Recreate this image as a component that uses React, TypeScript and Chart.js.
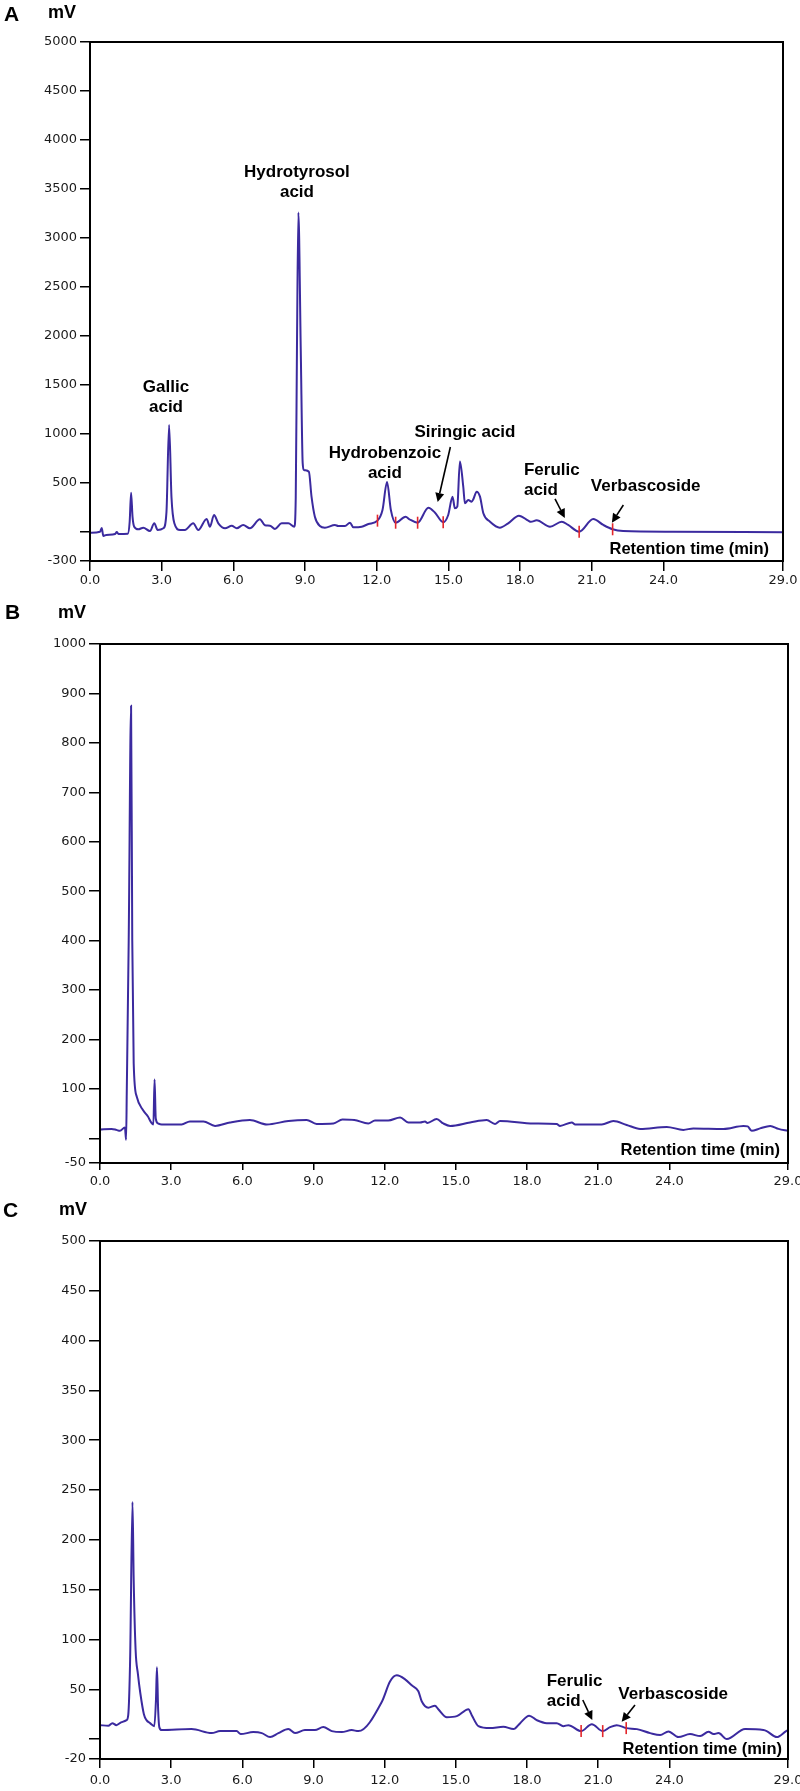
import React, { useEffect, useRef } from 'react';
import { Chart, registerables } from 'chart.js';

Chart.register(...registerables);

// ---------- shared ----------
const X_TICKS = [0, 3, 6, 9, 12, 15, 18, 21, 24, 29];

// ---------- Panel A ----------
const TIME_A = [0, 0.42, 0.49, 0.56, 0.68, 1.05, 1.12, 1.19, 1.58, 1.66, 1.72, 1.78, 1.85, 2.02, 2.23, 2.51, 2.69, 2.83, 3.07, 3.2, 3.31, 3.41, 3.53, 3.77, 3.97, 4.32, 4.53, 4.88, 5.02, 5.19, 5.37, 5.65, 5.93, 6.14, 6.41, 6.69, 7.11, 7.32, 7.53, 7.74, 8.02, 8.3, 8.55, 8.61, 8.66, 8.72, 8.82, 8.9, 8.95, 9.16, 9.27, 9.41, 9.62, 9.83, 10.25, 10.39, 10.67, 10.88, 11.02, 11.37, 11.65, 12.03, 12.24, 12.43, 12.59, 12.79, 13.21, 13.37, 13.71, 14.16, 14.44, 14.78, 14.99, 15.17, 15.27, 15.37, 15.48, 15.62, 15.69, 15.83, 15.97, 16.04, 16.18, 16.32, 16.46, 16.74, 17.15, 17.5, 17.95, 18.34, 18.45, 18.69, 19.25, 19.74, 20.01, 20.47, 21.06, 21.48, 21.87, 22.31, 24.4, 29.0];
const MV_A = [-11, -1, 37, -45, -34, -24, -4, -24, -21, 100, 397, 150, 50, 24, 40, 6, 85, 17, 34, 200, 1090, 350, 85, 17, 17, 85, 17, 129, 50, 170, 85, 34, 60, 34, 68, 34, 126, 65, 60, 27, 85, 85, 50, 350, 1850, 3260, 1850, 700, 630, 612, 357, 152, 57, 40, 68, 57, 57, 91, 44, 50, 78, 112, 221, 507, 221, 91, 152, 126, 91, 244, 193, 96, 170, 357, 238, 255, 717, 459, 289, 323, 306, 330, 408, 357, 187, 101, 40, 85, 163, 112, 100, 115, 50, 101, 68, -1, 129, 68, 24, 6, -1, -7];
const Y_TICKS_A = [-300, 0, 500, 1000, 1500, 2000, 2500, 3000, 3500, 4000, 4500, 5000];
const MARK_TIME_A = [12.03, 12.79, 13.71, 14.78, 20.47, 21.87];
const MARK_MV_A = [112, 91, 91, 96, -1, 24];
const LABEL_TEXT_A = [['Gallic', 'acid'], ['Hydrotyrosol', 'acid'], ['Hydrobenzoic', 'acid'], ['Siringic acid'], ['Ferulic', 'acid'], ['Verbascoside']];
const LABEL_TIME_A = [3.18, 8.66, 12.34, 15.69, 18.16, 20.96];
const LABEL_MV_A = [1477, 3672, 803, 1017, 622, 466];
const ARROW_FROM_TIME_A = [15.08, 19.46, 22.32];
const ARROW_FROM_MV_A = [864, 334, 272];
const ARROW_TO_TIME_A = [14.55, 19.87, 21.84];
const ARROW_TO_MV_A = [302, 139, 91];

// ---------- Panel B ----------
const TIME_B = [0, 0.49, 0.69, 0.84, 1.05, 1.1, 1.13, 1.21, 1.31, 1.36, 1.42, 1.55, 1.81, 2.02, 2.17, 2.25, 2.3, 2.35, 2.45, 2.6, 3.44, 3.79, 4.36, 4.85, 5.48, 6.32, 7.03, 7.94, 8.71, 9.13, 9.84, 10.22, 10.72, 11.31, 11.59, 12.15, 12.65, 13.0, 13.49, 13.7, 13.8, 14.19, 14.47, 14.76, 15.6, 16.3, 16.65, 16.86, 18.27, 19.25, 19.39, 19.89, 20.03, 21.15, 21.64, 22.2, 22.77, 23.89, 24.59, 25.01, 26.28, 27.12, 27.3, 27.47, 27.82, 28.25, 28.6, 29.0];
const MV_B = [18, 19, 17, 15, 22, -3, 100, 400, 875, 400, 152, 84, 57, 44, 31, 28, 119, 40, 30, 28, 28, 34, 34, 25, 32, 37, 28, 35, 37, 29, 30, 38, 37, 30, 36, 36, 42, 32, 32, 34, 31, 39, 30, 25, 32, 37, 29, 35, 30, 29, 25, 32, 28, 28, 35, 27, 19, 23, 17, 20, 19, 25, 24, 15, 20, 25, 19, 15];
const Y_TICKS_B = [-50, 0, 100, 200, 300, 400, 500, 600, 700, 800, 900, 1000];

// ---------- Panel C ----------
const TIME_C = [0, 0.35, 0.52, 0.69, 0.91, 1.12, 1.19, 1.27, 1.37, 1.42, 1.5, 1.6, 1.7, 1.85, 1.96, 2.11, 2.29, 2.36, 2.4, 2.45, 2.5, 2.6, 3.86, 4.71, 5.06, 5.76, 5.93, 6.46, 6.82, 7.17, 7.52, 7.94, 8.22, 8.64, 9.06, 9.41, 9.77, 10.19, 10.61, 10.89, 11.88, 12.23, 12.51, 12.86, 13.14, 13.42, 13.56, 13.84, 14.12, 14.26, 14.62, 15.04, 15.53, 15.67, 15.95, 16.44, 17.0, 17.43, 17.71, 18.09, 18.41, 18.83, 19.25, 19.53, 19.74, 20.28, 20.73, 21.19, 21.5, 21.78, 22.18, 22.63, 23.19, 23.61, 23.96, 24.38, 24.87, 25.3, 25.65, 25.86, 26.07, 26.42, 27.19, 27.96, 28.1, 28.53, 28.92, 29.0];
const MV_C = [14, 13.4, 16, 14, 17, 19, 24, 80, 238, 160, 90, 65, 46, 25, 19, 16, 13, 40, 72, 30, 12, 9, 10, 6, 8, 8, 5, 7, 6, 2, 6, 10, 6, 9, 9, 12, 8, 7, 9, 8, 37.5, 58, 64, 60, 54, 48, 38, 31.5, 33.5, 30, 22, 23, 30, 24, 13, 11, 12.4, 10, 16, 23.5, 19, 16, 16, 13, 14, 8, 15, 8, 12, 14, 11, 10, 6, 4, 7.7, 2, 5, 3, 7.4, 5, 6, 0, 10, 9, 8, 2, 8, 9];
const Y_TICKS_C = [-20, 0, 50, 100, 150, 200, 250, 300, 350, 400, 450, 500];
const MARK_TIME_C = [20.28, 21.19, 22.18];
const MARK_MV_C = [8, 8, 11];
const LABEL_TEXT_C = [['Ferulic', 'acid'], ['Verbascoside']];
const LABEL_TIME_C = [18.83, 21.85];
const LABEL_MV_C = [57.6, 45.3];
const ARROW_FROM_TIME_C = [20.35, 22.55];
const ARROW_FROM_MV_C = [39.2, 34.2];
const ARROW_TO_TIME_C = [20.75, 21.99];
const ARROW_TO_MV_C = [19.2, 17.4];

// ---------- styles ----------
const LINE_COLOR = '#3b2a9f';
const MARK_COLOR = '#e3262b';
const TICK_FONT = { family: '"DejaVu Sans", Verdana, sans-serif', size: 13 };
const BOLD = '"Liberation Sans", Arial, Helvetica, sans-serif';

type PanelSpec = {
  letter: string;
  top: number;
  height: number;
  plot: { left: number; right: number; top: number; bottom: number };
  yMin: number;
  yMax: number;
  yTicks: number[];
  times: number[];
  mv: number[];
  markTime: number[];
  markMv: number[];
  labelText: string[][];
  labelTime: number[];
  labelMv: number[];
  labelAlign: CanvasTextAlign[];
  arrowFromTime: number[];
  arrowFromMv: number[];
  arrowToTime: number[];
  arrowToMv: number[];
  letterPos: [number, number];
  unitPos: [number, number];
  titleOffset: [number, number];
  xTickLen: number;
  xTickPad: number;
  yTickLen: number;
};

const PANELS: PanelSpec[] = [
  {
    letter: 'A', top: 0, height: 590,
    plot: { left: 90, right: 783, top: 42, bottom: 561 },
    yMin: -300, yMax: 5000, yTicks: Y_TICKS_A,
    times: TIME_A, mv: MV_A, markTime: MARK_TIME_A, markMv: MARK_MV_A,
    labelText: LABEL_TEXT_A, labelTime: LABEL_TIME_A, labelMv: LABEL_MV_A,
    labelAlign: ['center', 'center', 'center', 'center', 'left', 'left'],
    arrowFromTime: ARROW_FROM_TIME_A, arrowFromMv: ARROW_FROM_MV_A, arrowToTime: ARROW_TO_TIME_A, arrowToMv: ARROW_TO_MV_A,
    letterPos: [4, 15], unitPos: [48, 13], titleOffset: [14, 7],
    xTickLen: 10, xTickPad: 2, yTickLen: 10,
  },
  {
    letter: 'B', top: 590, height: 605,
    plot: { left: 100, right: 788, top: 54, bottom: 573 },
    yMin: -50, yMax: 1000, yTicks: Y_TICKS_B,
    times: TIME_B, mv: MV_B, markTime: [], markMv: [],
    labelText: [], labelTime: [], labelMv: [], labelAlign: [],
    arrowFromTime: [], arrowFromMv: [], arrowToTime: [], arrowToMv: [],
    letterPos: [5, 23], unitPos: [58, 23], titleOffset: [8, 8],
    xTickLen: 7, xTickPad: 4, yTickLen: 11,
  },
  {
    letter: 'C', top: 1195, height: 596,
    plot: { left: 100, right: 788, top: 46, bottom: 564 },
    yMin: -20, yMax: 500, yTicks: Y_TICKS_C,
    times: TIME_C, mv: MV_C, markTime: MARK_TIME_C, markMv: MARK_MV_C,
    labelText: LABEL_TEXT_C, labelTime: LABEL_TIME_C, labelMv: LABEL_MV_C,
    labelAlign: ['left', 'left'],
    arrowFromTime: ARROW_FROM_TIME_C, arrowFromMv: ARROW_FROM_MV_C, arrowToTime: ARROW_TO_TIME_C, arrowToMv: ARROW_TO_MV_C,
    letterPos: [3, 16], unitPos: [59, 15], titleOffset: [6, 5],
    xTickLen: 9, xTickPad: 5, yTickLen: 11,
  },
];

function decorPlugin(spec: PanelSpec) {
  return {
    id: 'decor' + spec.letter,
    afterDraw(chart: any) {
      const { ctx, chartArea: a, scales } = chart;
      const xs = scales.x;
      const ys = scales.y;
      ctx.save();
      ctx.strokeStyle = '#000';
      ctx.lineWidth = 2;
      ctx.strokeRect(a.left, a.top, a.right - a.left, a.bottom - a.top);

      ctx.fillStyle = '#000';
      ctx.textAlign = 'left';
      ctx.textBaseline = 'middle';
      ctx.font = `bold 21px ${BOLD}`;
      ctx.fillText(spec.letter, spec.letterPos[0], spec.letterPos[1]);
      ctx.font = `bold 18px ${BOLD}`;
      ctx.fillText('mV', spec.unitPos[0], spec.unitPos[1]);

      ctx.font = `bold 16.5px ${BOLD}`;
      ctx.textAlign = 'right';
      ctx.textBaseline = 'alphabetic';
      ctx.fillText('Retention time (min)', a.right - spec.titleOffset[0], a.bottom - spec.titleOffset[1]);

      ctx.font = `bold 17px ${BOLD}`;
      ctx.textBaseline = 'middle';
      spec.labelText.forEach((lines, i) => {
        const px = xs.getPixelForValue(spec.labelTime[i]);
        const py = ys.getPixelForValue(spec.labelMv[i]);
        ctx.textAlign = spec.labelAlign[i];
        lines.forEach((ln, j) => ctx.fillText(ln, px, py + j * 20));
      });

      ctx.strokeStyle = '#000';
      ctx.lineWidth = 1.6;
      spec.arrowFromTime.forEach((_, i) => {
        const x1 = xs.getPixelForValue(spec.arrowFromTime[i]);
        const y1 = ys.getPixelForValue(spec.arrowFromMv[i]);
        const x2 = xs.getPixelForValue(spec.arrowToTime[i]);
        const y2 = ys.getPixelForValue(spec.arrowToMv[i]);
        const ang = Math.atan2(y2 - y1, x2 - x1);
        const hl = 9, hw = 4.5;
        const bx = x2 - hl * Math.cos(ang);
        const by = y2 - hl * Math.sin(ang);
        ctx.beginPath();
        ctx.moveTo(x1, y1);
        ctx.lineTo(bx, by);
        ctx.stroke();
        ctx.beginPath();
        ctx.moveTo(x2, y2);
        ctx.lineTo(bx + hw * Math.sin(ang), by - hw * Math.cos(ang));
        ctx.lineTo(bx - hw * Math.sin(ang), by + hw * Math.cos(ang));
        ctx.closePath();
        ctx.fill();
      });
      ctx.restore();
    },
  };
}

function makeConfig(spec: PanelSpec): any {
  const yW = spec.plot.left;
  const xH = spec.height - spec.plot.bottom;
  return {
    type: 'line',
    data: {
      datasets: [
        {
          data: spec.times.map((t, i) => ({ x: t, y: spec.mv[i] })),
          borderColor: LINE_COLOR,
          borderWidth: 2,
          pointRadius: 0,
          cubicInterpolationMode: 'monotone',
          fill: false,
          order: 2,
        },
        {
          type: 'scatter',
          data: spec.markTime.map((t, i) => ({ x: t, y: spec.markMv[i] })),
          pointStyle: 'line',
          pointRotation: 90,
          pointRadius: 6,
          pointBorderColor: MARK_COLOR,
          pointBackgroundColor: MARK_COLOR,
          pointBorderWidth: 1.6,
          showLine: false,
          order: 1,
        },
      ],
    },
    options: {
      animation: false,
      responsive: false,
      maintainAspectRatio: false,
      events: [],
      layout: { padding: { left: 0, right: 800 - spec.plot.right, top: spec.plot.top, bottom: 0 } },
      plugins: { legend: { display: false }, tooltip: { enabled: false } },
      scales: {
        x: {
          type: 'linear',
          min: 0,
          max: 29,
          afterBuildTicks: (s: any) => { s.ticks = X_TICKS.map((v) => ({ value: v })); },
          afterFit: (s: any) => { s.height = xH; s.paddingLeft = 0; s.paddingRight = 0; },
          ticks: {
            autoSkip: false,
            maxRotation: 0,
            font: TICK_FONT,
            color: '#1a1a1a',
            padding: spec.xTickPad,
            callback: (v: number) => Number(v).toFixed(1),
          },
          grid: { drawOnChartArea: false, drawTicks: true, tickLength: spec.xTickLen, color: '#000', lineWidth: 1.5 },
          border: { display: true, color: '#000', width: 2 },
        },
        y: {
          type: 'linear',
          min: spec.yMin,
          max: spec.yMax,
          afterBuildTicks: (s: any) => { s.ticks = spec.yTicks.map((v) => ({ value: v })); },
          afterFit: (s: any) => { s.width = yW; s.paddingTop = 0; s.paddingBottom = 0; },
          ticks: {
            autoSkip: false,
            font: TICK_FONT,
            color: '#1a1a1a',
            padding: 3,
            callback: (v: number) => (v === 0 ? '' : String(v)),
          },
          grid: { drawOnChartArea: false, drawTicks: true, tickLength: spec.yTickLen, color: '#000', lineWidth: 1.5 },
          border: { display: true, color: '#000', width: 2 },
        },
      },
    },
    plugins: [decorPlugin(spec)],
  };
}

function Panel({ spec }: { spec: PanelSpec }) {
  const ref = useRef<HTMLCanvasElement>(null);
  useEffect(() => {
    if (!ref.current) return;
    const chart = new Chart(ref.current, makeConfig(spec));
    return () => chart.destroy();
  }, [spec]);
  return (
    <canvas
      ref={ref}
      width={800}
      height={spec.height}
      style={{ position: 'absolute', left: 0, top: spec.top, width: 800, height: spec.height }}
    />
  );
}

export default function App() {
  return (
    <div style={{ position: 'absolute', left: 0, top: 0, width: 800, height: 1791, background: '#fff', overflow: 'hidden' }}>
      {PANELS.map((p) => (
        <Panel key={p.letter} spec={p} />
      ))}
    </div>
  );
}
